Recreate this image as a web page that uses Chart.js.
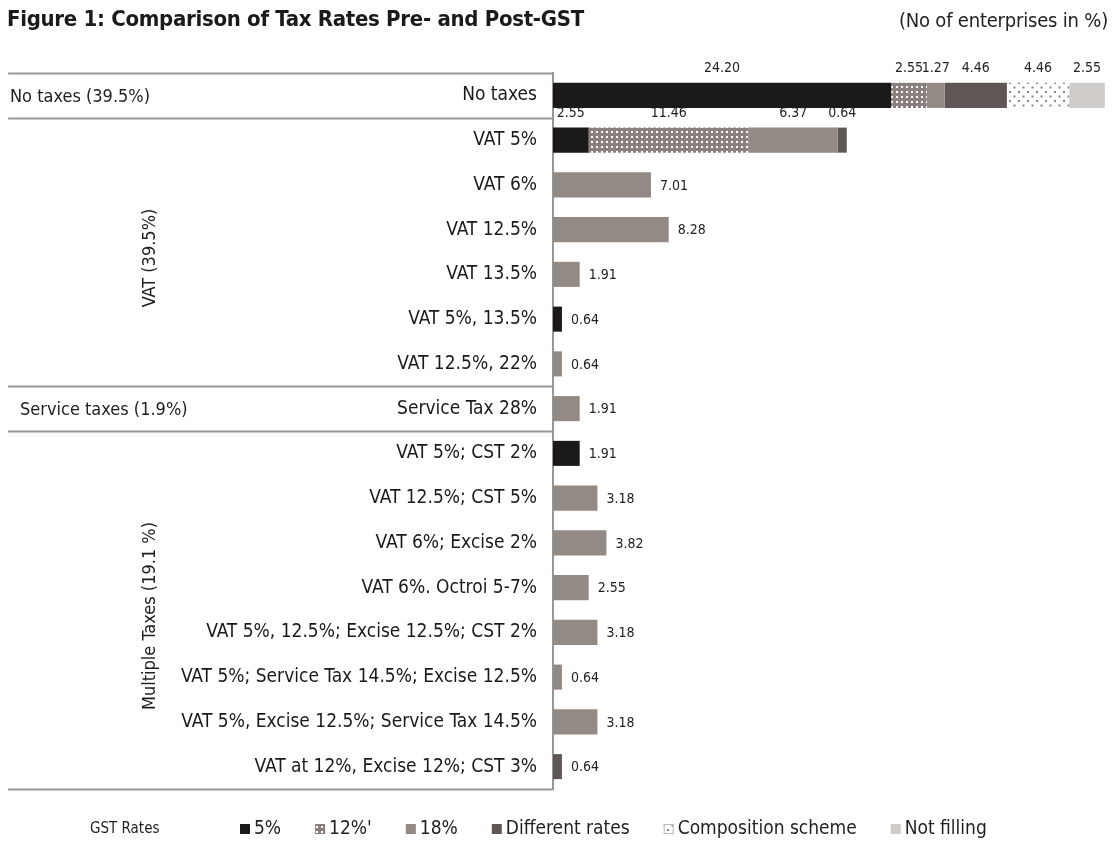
<!DOCTYPE html>
<html>
<head>
<meta charset="utf-8">
<title>Tax rates pre- and post-GST</title>
<script src="https://cdn.jsdelivr.net/npm/chart.js@4.4.1/dist/chart.umd.min.js"></script>
<style>
  html, body { margin: 0; padding: 0; background: #fff; }
  #wrap { position: relative; width: 1112px; height: 851px; }
  #title {
    position: absolute; left: 7px; top: 6px;
    font: bold 22px 'Liberation Sans Narrow', 'DejaVu Sans Condensed', 'Roboto Condensed', sans-serif;
    color: #1a1a1a; letter-spacing: -0.3px;
  }
  #units {
    position: absolute; right: 4px; top: 8px;
    font: 20px 'Liberation Sans Narrow', 'DejaVu Sans Condensed', sans-serif;
    color: #222; letter-spacing: -0.2px;
  }
</style>
</head>
<body>
<div id="wrap">
  <canvas id="taxChart" width="1112" height="851"></canvas>
  <div id="title">Figure 1: Comparison of Tax Rates Pre- and Post-GST</div>
  <div id="units">(No of enterprises in %)</div>
</div>
<script>
const FONT = "'Liberation Sans Narrow', 'DejaVu Sans Condensed', 'Roboto Condensed', sans-serif";

// rows, top to bottom
const categories = [
  "No taxes",
  "VAT 5%",
  "VAT 6%",
  "VAT 12.5%",
  "VAT 13.5%",
  "VAT 5%, 13.5%",
  "VAT 12.5%, 22%",
  "Service Tax 28%",
  "VAT 5%; CST 2%",
  "VAT 12.5%; CST 5%",
  "VAT 6%; Excise 2%",
  "VAT 6%. Octroi 5-7%",
  "VAT 5%, 12.5%; Excise 12.5%; CST 2%",
  "VAT 5%; Service Tax 14.5%; Excise 12.5%",
  "VAT 5%, Excise 12.5%; Service Tax 14.5%",
  "VAT at 12%, Excise 12%; CST 3%"
];

// GST rate shares (% of enterprises)
const gst5        = [24.20, 2.55, null, null, null, 0.64, null, null, 1.91, null, null, null, null, null, null, null];
const gst12       = [2.55, 11.46, null, null, null, null, null, null, null, null, null, null, null, null, null, null];
const gst18       = [1.27, 6.37, 7.01, 8.28, 1.91, null, 0.64, 1.91, null, 3.18, 3.82, 2.55, 3.18, 0.64, 3.18, null];
const different   = [4.46, 0.64, null, null, null, null, null, null, null, null, null, null, null, null, null, 0.64];
const composition = [4.46, null, null, null, null, null, null, null, null, null, null, null, null, null, null, null];
const notFiling   = [2.55, null, null, null, null, null, null, null, null, null, null, null, null, null, null, null];

const seriesNames = ["5%", "12%'", "18%", "Different rates", "Composition scheme", "Not filling"];

// pre-GST groups: label, first row, last row, rotated?
const groups = [
  { label: "No taxes (39.5%)", from: 0, to: 0, vertical: false, x: 10 },
  { label: "VAT (39.5%)", from: 1, to: 6, vertical: true, x: 150 },
  { label: "Service taxes (1.9%)", from: 7, to: 7, vertical: false, x: 20 },
  { label: "Multiple Taxes (19.1 %)", from: 8, to: 15, vertical: true, x: 150 }
];

// small repeating fills for the patterned series
function dotPattern(bg, dot, size, dotSize, stagger) {
  const c = document.createElement("canvas");
  c.width = size; c.height = size;
  const g = c.getContext("2d");
  g.fillStyle = bg;
  g.fillRect(0, 0, size, size);
  g.fillStyle = dot;
  g.fillRect(1, 1, dotSize, dotSize);
  if (stagger) g.fillRect(size / 2 + 1, size / 2 + 1, dotSize, dotSize);
  return g.createPattern(c, "repeat");
}

const ctx = document.getElementById("taxChart").getContext("2d");
const fill12 = dotPattern("#8a817e", "#ffffff", 5, 2, false);
const fillComp = dotPattern("#ffffff", "#8a8583", 9, 2, true);

// group boxes and labels on the left
const groupPlugin = {
  id: "groups",
  afterDraw(chart) {
    const c = chart.ctx;
    const y = chart.scales.y;
    const left = 8;
    const right = chart.chartArea.left;
    c.save();
    c.strokeStyle = "#9a9696";
    c.lineWidth = 2;
    const edges = new Set();
    groups.forEach(g => {
      edges.add(g.from - 0.5);
      edges.add(g.to + 0.5);
    });
    edges.forEach(e => {
      const py = Math.round(y.getPixelForValue(e)) + 0.5;
      c.beginPath();
      c.moveTo(left, py);
      c.lineTo(right, py);
      c.stroke();
    });
    c.fillStyle = "#1f1f1f";
    c.font = "18px " + FONT;
    groups.forEach(g => {
      const mid = (y.getPixelForValue(g.from) + y.getPixelForValue(g.to)) / 2;
      if (g.vertical) {
        c.save();
        c.translate(g.x, mid + 6);
        c.rotate(-Math.PI / 2);
        c.textAlign = "center";
        c.textBaseline = "middle";
        c.fillText(g.label, 0, 0);
        c.restore();
      } else {
        c.textAlign = "left";
        c.textBaseline = "middle";
        c.fillText(g.label, g.x, mid + 2);
      }
    });
    c.restore();
  }
};

// legend row along the bottom, built from the datasets
const legendPlugin = {
  id: "gstLegend",
  afterDraw(chart) {
    const c = chart.ctx;
    const ly = 829;
    c.save();
    c.textBaseline = "middle";
    c.textAlign = "left";
    c.fillStyle = "#1f1f1f";
    c.font = "15px " + FONT;
    c.fillText("GST Rates", 90, ly);
    c.font = "19px " + FONT;
    let x = 240;
    chart.data.datasets.forEach(ds => {
      c.fillStyle = ds.backgroundColor;
      c.fillRect(x, ly - 5, 10, 10);
      c.strokeStyle = "#bdb8b6";
      c.lineWidth = 1;
      if (ds.label === "Composition scheme") c.strokeRect(x + 0.5, ly - 4.5, 9, 9);
      c.fillStyle = "#1f1f1f";
      c.fillText(ds.label, x + 14, ly);
      x += 14 + c.measureText(ds.label).width + 34;
    });
    c.restore();
  }
};

// value labels: beside single bars, above each segment of stacked rows
const valuePlugin = {
  id: "values",
  afterDatasetsDraw(chart) {
    const c = chart.ctx;
    c.save();
    c.fillStyle = "#222";
    c.font = "14px " + FONT;
    c.textBaseline = "middle";
    const sets = chart.data.datasets;
    categories.forEach((cat, i) => {
      const filled = sets.filter(ds => ds.data[i] != null).length;
      sets.forEach((ds, d) => {
        const v = ds.data[i];
        if (v == null) return;
        const bar = chart.getDatasetMeta(d).data[i];
        const txt = v.toFixed(2);
        if (filled > 1) {
          c.textAlign = "center";
          c.fillText(txt, (bar.x + bar.base) / 2, bar.y - bar.height / 2 - 14);
        } else {
          c.textAlign = "left";
          c.fillText(txt, bar.x + 9, bar.y + 1);
        }
      });
    });
    c.restore();
  }
};

new Chart(ctx, {
  type: "bar",
  data: {
    labels: categories,
    datasets: [
      { label: seriesNames[0], data: gst5, backgroundColor: "#1b1919" },
      { label: seriesNames[1], data: gst12, backgroundColor: fill12 },
      { label: seriesNames[2], data: gst18, backgroundColor: "#938985" },
      { label: seriesNames[3], data: different, backgroundColor: "#5e5755" },
      { label: seriesNames[4], data: composition, backgroundColor: fillComp },
      { label: seriesNames[5], data: notFiling, backgroundColor: "#cfcbc9" }
    ]
  },
  options: {
    indexAxis: "y",
    responsive: false,
    animation: false,
    barPercentage: 0.56,
    categoryPercentage: 1,
    layout: { padding: { top: 73, left: 130, right: 7, bottom: 62 } },
    scales: {
      x: {
        stacked: true,
        display: false,
        min: 0,
        max: 39.5
      },
      y: {
        stacked: true,
        grid: { display: false, drawTicks: false },
        border: { display: true, color: "#9a9696", width: 2 },
        ticks: {
          color: "#1a1a1a",
          padding: 16,
          font: { family: FONT, size: 19 },
          autoSkip: false
        },
        afterFit(scale) {
          scale.width = 423;
        }
      }
    },
    plugins: {
      legend: { display: false },
      tooltip: { enabled: false }
    }
  },
  plugins: [groupPlugin, valuePlugin, legendPlugin]
});
</script>
</body>
</html>
